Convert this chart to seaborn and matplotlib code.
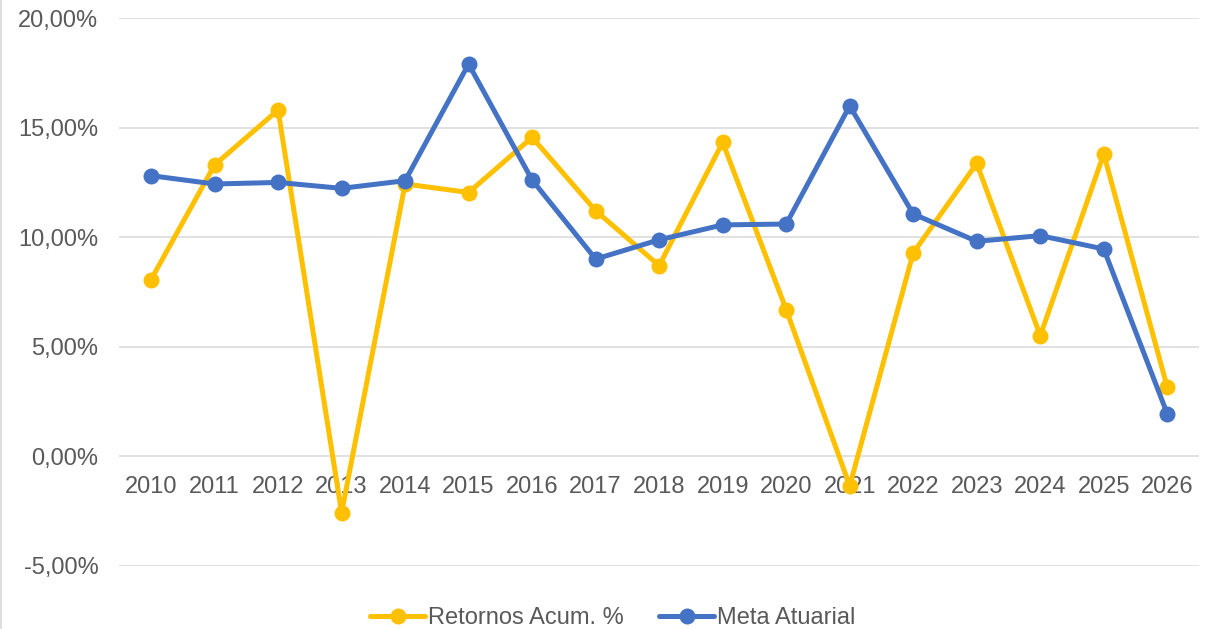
import matplotlib
matplotlib.use("Agg")
import matplotlib.pyplot as plt
import seaborn as sns
import pandas as pd
from matplotlib.lines import Line2D
from matplotlib.ticker import FuncFormatter

years = list(range(2010, 2027))
retornos = [8.07, 13.31, 15.82, -2.58, 12.44, 12.05, 14.57, 11.22, 8.71,
            14.34, 6.70, -1.35, 9.29, 13.38, 5.51, 13.81, 3.15]
meta = [12.82, 12.44, 12.51, 12.24, 12.59, 17.92, 12.62, 9.01, 9.89,
        10.57, 10.61, 16.01, 11.07, 9.82, 10.08, 9.47, 1.94]
series_names = ["Retornos Acum. %", "Meta Atuarial"]
colors = ["#FFC000", "#4472C4"]

df = pd.DataFrame({"Ano": years * 2,
                   "Valor": retornos + meta,
                   "Serie": [series_names[0]] * len(years) + [series_names[1]] * len(years)})

sns.set_style("white")
plt.rcParams["font.family"] = ["Liberation Sans", "DejaVu Sans"]

fig = plt.figure(figsize=(12.26, 6.29), dpi=100)
ax = fig.add_axes([0.0973, 0.1006, 0.8807, 0.8700])

for name, col in zip(series_names, colors):
    d = df[df["Serie"] == name]
    sns.lineplot(data=d, x="Ano", y="Valor", ax=ax, color=col, linewidth=3.6,
                 marker="o", markersize=11.5, markeredgewidth=0, label=name,
                 zorder=3)

ax.set_xlim(2009.5, 2026.5)
ax.set_ylim(-5, 20)
ax.set_yticks([-5, 0, 5, 10, 15, 20])
ax.yaxis.set_major_formatter(FuncFormatter(lambda v, p: f"{v:.2f}%".replace(".", ",")))
ax.set_xticks(years)
ax.set_xticklabels([str(y) for y in years])
ax.grid(axis="y", color="#D9D9D9", linewidth=1.1, zorder=0)
ax.set_axisbelow(True)
for s in ["top", "right", "left"]:
    ax.spines[s].set_visible(False)
ax.spines["bottom"].set_position(("data", 0))
ax.spines["bottom"].set_visible(False)
ax.tick_params(axis="both", length=0, labelsize=17, colors="#595959")
ax.tick_params(axis="x", pad=14)
ax.tick_params(axis="y", pad=15)
ax.set_xlabel("")
ax.set_ylabel("")
ax.get_legend().remove()

handles, labels = ax.get_legend_handles_labels()
fig.legend(handles, labels, loc="center", bbox_to_anchor=(0.5, 0.0175), ncol=2,
           frameon=False, fontsize=17, labelcolor="#595959", handlelength=2.3,
           handletextpad=0.15, columnspacing=1.5, borderaxespad=0)

fig.add_artist(Line2D([0.0008, 0.0008], [0, 1], transform=fig.transFigure,
                      color="#D9D9D9", linewidth=1.2))

fig.savefig("out.png", dpi=100)
